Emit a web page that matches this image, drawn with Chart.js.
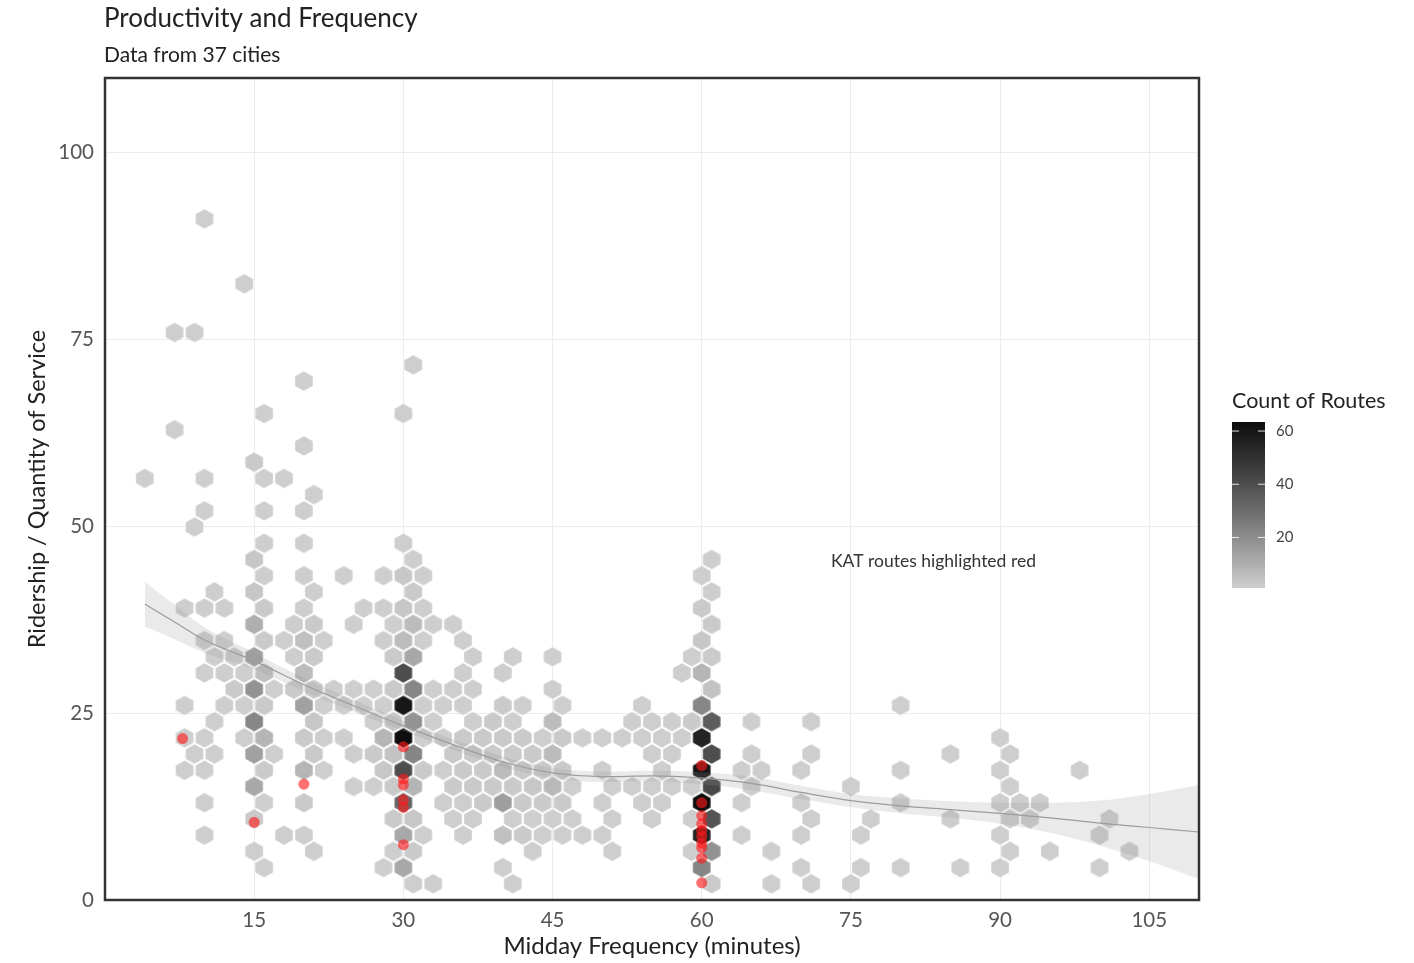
<!DOCTYPE html>
<html><head><meta charset="utf-8">
<script src="https://cdn.jsdelivr.net/npm/chart.js@4.4.1/dist/chart.umd.min.js"></script>
<style>html,body{margin:0;padding:0;background:#fff;}#wrap{width:1414px;height:963px;}</style>
</head><body><div id="wrap"><canvas id="c" width="1414" height="963"></canvas></div>
<script>
const xTicks = [15, 30, 45, 60, 75, 90, 105];
const yTicks = [0, 25, 50, 75, 100];
const legendTicks = [20, 40, 60];
const countMin = 1, countMax = 63.4;

const hexX = [
 10,
 14,
 7, 9,
 31,
 20,
 16, 30,
 7,
 20,
 15,
 4, 10, 16, 18,
 21,
 10, 16, 20,
 9,
 16, 20, 30,
 15, 31, 61,
 16, 20, 24, 28, 30, 32, 60,
 11, 15, 21, 31, 61,
 8, 10, 12, 16, 20, 26, 28, 30, 32, 60,
 15, 19, 21, 25, 29, 31, 33, 35, 61,
 10, 12, 16, 18, 20, 22, 28, 30, 32, 36, 60,
 11, 13, 15, 19, 21, 29, 31, 37, 41, 45, 59, 61,
 10, 12, 14, 16, 20, 30, 36, 40, 58, 60,
 13, 15, 17, 19, 21, 23, 25, 27, 29, 31, 33, 35, 37, 45, 61,
 8, 12, 14, 16, 20, 22, 24, 26, 28, 30, 32, 34, 36, 40, 42, 46, 54, 60, 80,
 11, 15, 21, 27, 29, 31, 33, 37, 39, 41, 45, 53, 55, 57, 59, 61, 65, 71,
 8, 10, 14, 16, 20, 22, 24, 28, 30, 32, 34, 36, 38, 40, 42, 44, 46, 48, 50, 52, 54, 56, 58, 60, 90,
 9, 11, 15, 17, 21, 25, 27, 29, 31, 35, 37, 39, 41, 43, 45, 55, 57, 61, 65, 71, 85, 91,
 8, 10, 16, 20, 22, 28, 30, 32, 34, 36, 38, 40, 42, 44, 46, 50, 56, 60, 64, 66, 70, 80, 90, 98,
 15, 25, 27, 29, 31, 35, 37, 39, 41, 43, 45, 47, 51, 53, 55, 57, 59, 61, 65, 75, 91,
 10, 16, 20, 30, 34, 36, 38, 40, 42, 44, 46, 50, 54, 56, 60, 64, 70, 80, 90, 92, 94,
 15, 29, 31, 35, 37, 41, 43, 45, 47, 51, 55, 59, 61, 71, 77, 85, 91, 93, 101,
 10, 18, 20, 30, 32, 36, 40, 42, 44, 46, 48, 50, 60, 64, 70, 76, 90, 100,
 15, 21, 29, 31, 43, 51, 59, 61, 67, 91, 95, 103,
 16, 28, 30, 40, 60, 70, 76, 80, 86, 90, 100,
 31, 33, 41, 61, 67, 71, 75
];
const hexY = [
 91.14,
 82.46,
 75.95, 75.95,
 71.61,
 69.44,
 65.1, 65.1,
 62.93,
 60.76,
 58.59,
 56.42, 56.42, 56.42, 56.42,
 54.25,
 52.08, 52.08, 52.08,
 49.91,
 47.74, 47.74, 47.74,
 45.57, 45.57, 45.57,
 43.4, 43.4, 43.4, 43.4, 43.4, 43.4, 43.4,
 41.23, 41.23, 41.23, 41.23, 41.23,
 39.06, 39.06, 39.06, 39.06, 39.06, 39.06, 39.06, 39.06, 39.06, 39.06,
 36.89, 36.89, 36.89, 36.89, 36.89, 36.89, 36.89, 36.89, 36.89,
 34.72, 34.72, 34.72, 34.72, 34.72, 34.72, 34.72, 34.72, 34.72, 34.72, 34.72,
 32.55, 32.55, 32.55, 32.55, 32.55, 32.55, 32.55, 32.55, 32.55, 32.55, 32.55, 32.55,
 30.38, 30.38, 30.38, 30.38, 30.38, 30.38, 30.38, 30.38, 30.38, 30.38,
 28.21, 28.21, 28.21, 28.21, 28.21, 28.21, 28.21, 28.21, 28.21, 28.21, 28.21, 28.21, 28.21, 28.21, 28.21,
 26.04, 26.04, 26.04, 26.04, 26.04, 26.04, 26.04, 26.04, 26.04, 26.04, 26.04, 26.04, 26.04, 26.04, 26.04, 26.04, 26.04, 26.04, 26.04,
 23.87, 23.87, 23.87, 23.87, 23.87, 23.87, 23.87, 23.87, 23.87, 23.87, 23.87, 23.87, 23.87, 23.87, 23.87, 23.87, 23.87, 23.87,
 21.7, 21.7, 21.7, 21.7, 21.7, 21.7, 21.7, 21.7, 21.7, 21.7, 21.7, 21.7, 21.7, 21.7, 21.7, 21.7, 21.7, 21.7, 21.7, 21.7, 21.7, 21.7, 21.7, 21.7, 21.7,
 19.53, 19.53, 19.53, 19.53, 19.53, 19.53, 19.53, 19.53, 19.53, 19.53, 19.53, 19.53, 19.53, 19.53, 19.53, 19.53, 19.53, 19.53, 19.53, 19.53, 19.53, 19.53,
 17.36, 17.36, 17.36, 17.36, 17.36, 17.36, 17.36, 17.36, 17.36, 17.36, 17.36, 17.36, 17.36, 17.36, 17.36, 17.36, 17.36, 17.36, 17.36, 17.36, 17.36, 17.36, 17.36, 17.36,
 15.19, 15.19, 15.19, 15.19, 15.19, 15.19, 15.19, 15.19, 15.19, 15.19, 15.19, 15.19, 15.19, 15.19, 15.19, 15.19, 15.19, 15.19, 15.19, 15.19, 15.19,
 13.02, 13.02, 13.02, 13.02, 13.02, 13.02, 13.02, 13.02, 13.02, 13.02, 13.02, 13.02, 13.02, 13.02, 13.02, 13.02, 13.02, 13.02, 13.02, 13.02, 13.02,
 10.85, 10.85, 10.85, 10.85, 10.85, 10.85, 10.85, 10.85, 10.85, 10.85, 10.85, 10.85, 10.85, 10.85, 10.85, 10.85, 10.85, 10.85, 10.85,
 8.68, 8.68, 8.68, 8.68, 8.68, 8.68, 8.68, 8.68, 8.68, 8.68, 8.68, 8.68, 8.68, 8.68, 8.68, 8.68, 8.68, 8.68,
 6.51, 6.51, 6.51, 6.51, 6.51, 6.51, 6.51, 6.51, 6.51, 6.51, 6.51, 6.51,
 4.34, 4.34, 4.34, 4.34, 4.34, 4.34, 4.34, 4.34, 4.34, 4.34, 4.34,
 2.17, 2.17, 2.17, 2.17, 2.17, 2.17, 2.17
];
const hexCount = [
 1,
 1,
 1, 1,
 1,
 1,
 1, 1,
 1,
 1,
 2,
 1, 1, 1, 1,
 1,
 1, 1, 1,
 1,
 1, 1, 1,
 3, 1, 1,
 1, 1, 1, 1, 3, 1, 1,
 1, 3, 1, 2, 1,
 1, 1, 1, 2, 1, 1, 1, 3, 1, 2,
 10, 1, 2, 1, 1, 6, 1, 1, 2,
 1, 1, 2, 1, 5, 1, 1, 6, 1, 1, 3,
 1, 1, 14, 1, 2, 2, 12, 1, 1, 1, 1, 2,
 1, 1, 1, 5, 6, 40, 1, 1, 1, 8,
 2, 18, 1, 2, 2, 1, 1, 1, 2, 22, 1, 1, 1, 1, 4,
 1, 1, 1, 2, 14, 1, 1, 1, 1, 60, 1, 1, 1, 2, 1, 1, 1, 22, 1,
 1, 22, 3, 1, 3, 18, 1, 1, 2, 1, 6, 1, 1, 1, 2, 35, 1, 1,
 1, 1, 1, 8, 2, 1, 1, 8, 63, 1, 1, 2, 2, 2, 2, 1, 2, 1, 1, 1, 1, 1, 1, 55, 1,
 1, 1, 14, 1, 2, 1, 2, 4, 22, 2, 2, 2, 2, 2, 6, 1, 1, 40, 1, 1, 1, 1,
 1, 1, 2, 8, 1, 3, 40, 2, 1, 2, 2, 6, 2, 2, 2, 1, 1, 60, 1, 1, 1, 1, 1, 1,
 12, 1, 1, 2, 8, 2, 2, 2, 2, 3, 7, 1, 1, 1, 1, 1, 1, 42, 1, 1, 1,
 1, 1, 2, 32, 1, 1, 2, 15, 2, 2, 2, 1, 1, 1, 63, 1, 1, 1, 1, 1, 1,
 2, 2, 3, 1, 1, 1, 1, 1, 1, 1, 1, 1, 38, 1, 1, 1, 1, 1, 1,
 1, 1, 1, 12, 1, 1, 5, 2, 1, 1, 1, 1, 55, 1, 1, 1, 1, 1,
 1, 1, 1, 2, 1, 1, 1, 18, 1, 1, 1, 1,
 1, 1, 12, 1, 22, 1, 1, 1, 1, 1, 1,
 1, 1, 1, 2, 1, 1, 1
];

const katX = [7.8, 15, 20, 30, 30, 30, 30, 30, 30, 60, 60, 60, 60, 60, 60, 60, 60, 60, 60];
const katY = [21.6, 10.4, 15.5, 20.5, 16.2, 15.4, 13.4, 12.4, 7.4, 18.0, 13.0, 11.3, 10.2, 9.3, 8.5, 7.6, 7.0, 5.6, 2.3];

const smoothX  = [4, 7, 10, 15, 20, 25, 30, 35, 40, 45, 50, 55, 60, 65, 70, 75, 80, 85, 90, 95, 100, 105, 110];
const smoothY  = [39.6, 37.2, 34.8, 32.0, 28.8, 26.0, 23.3, 20.8, 18.5, 17.0, 16.5, 16.6, 16.3, 15.6, 14.4, 13.3, 12.6, 12.1, 11.6, 11.0, 10.3, 9.7, 9.1];
const smoothLo = [36.6, 34.9, 33.1, 30.9, 27.9, 25.2, 22.6, 20.1, 17.8, 16.3, 15.8, 15.9, 15.5, 14.7, 13.5, 12.4, 11.6, 11.0, 10.2, 9.0, 7.3, 5.2, 2.8];
const smoothHi = [42.6, 39.5, 36.5, 33.1, 29.7, 26.8, 24.0, 21.5, 19.2, 17.7, 17.2, 17.3, 17.1, 16.5, 15.3, 14.2, 13.6, 13.2, 13.0, 13.0, 13.3, 14.2, 15.4];

const annText = 'KAT routes highlighted red';
const annX = 83.3, annY = 45.3;

// ---- colour scale (interpolated in lightness) ----
function lstar(v){ v/=255; v = v<=0.04045 ? v/12.92 : Math.pow((v+0.055)/1.055,2.4); return v>0.008856 ? 116*Math.cbrt(v)-16 : 903.3*v; }
function fromL(L){ const Y = L>8 ? Math.pow((L+16)/116,3) : L/903.3; const s = Y<=0.0031308 ? 12.92*Y : 1.055*Math.pow(Y,1/2.4)-0.055; return Math.round(Math.max(0,Math.min(1,s))*255); }
const L_LOW = lstar(206), L_HIGH = lstar(12);
function countColor(n){
  let t = (n-countMin)/(countMax-countMin); t = Math.max(0, Math.min(1, t));
  const g = fromL(L_LOW + (L_HIGH-L_LOW)*t);
  return 'rgb('+g+','+g+','+g+')';
}
const hexCache = {};
function hexStyle(color){
  if (hexCache[color]) return hexCache[color];
  const c = document.createElement('canvas'); c.width = 20; c.height = 22;
  const g = c.getContext('2d'); const cx = 10, cy = 11, hw = 8.8, hh = 9.7;
  g.beginPath(); g.moveTo(cx, cy-hh); g.lineTo(cx+hw, cy-hh/2); g.lineTo(cx+hw, cy+hh/2);
  g.lineTo(cx, cy+hh); g.lineTo(cx-hw, cy+hh/2); g.lineTo(cx-hw, cy-hh/2); g.closePath();
  g.fillStyle = color; g.fill();
  hexCache[color] = c; return c;
}

const decor = {
  id: 'decor',
  afterDraw(chart){
    const {ctx, chartArea: a, scales} = chart;
    ctx.save();
    ctx.strokeStyle = '#333'; ctx.lineWidth = 2.5;
    ctx.strokeRect(a.left, a.top, a.right - a.left, a.bottom - a.top);
    ctx.fillStyle = '#222'; ctx.textAlign = 'left'; ctx.textBaseline = 'alphabetic';
    ctx.font = '26px Lato'; ctx.fillText('Productivity and Frequency', 104, 27);
    ctx.font = '21px Lato'; ctx.fillText('Data from 37 cities', 104, 62);
    ctx.font = '17.5px Lato'; ctx.fillStyle = '#333'; ctx.textAlign = 'center'; ctx.textBaseline = 'middle';
    ctx.fillText(annText, scales.x.getPixelForValue(annX), scales.y.getPixelForValue(annY));
    // colour bar legend
    const bx = 1232, bw = 33, top = 422, bot = 588;
    ctx.textAlign = 'left'; ctx.textBaseline = 'alphabetic'; ctx.fillStyle = '#222'; ctx.font = '21.5px Lato';
    ctx.fillText('Count of Routes', bx, 408);
    const grad = ctx.createLinearGradient(0, bot, 0, top);
    for (let i = 0; i <= 20; i++){ const v = countMin + (countMax-countMin)*i/20; grad.addColorStop(i/20, countColor(v)); }
    ctx.fillStyle = grad; ctx.fillRect(bx, top, bw, bot - top);
    ctx.font = '15px Lato'; ctx.textBaseline = 'middle';
    legendTicks.forEach(v => {
      const y = bot - (v - countMin)/(countMax - countMin)*(bot - top);
      ctx.strokeStyle = 'rgba(255,255,255,0.85)'; ctx.lineWidth = 1;
      ctx.beginPath(); ctx.moveTo(bx, y); ctx.lineTo(bx+7, y); ctx.moveTo(bx+bw-7, y); ctx.lineTo(bx+bw, y); ctx.stroke();
      ctx.fillStyle = '#444'; ctx.fillText(String(v), 1276, y);
    });
    ctx.restore();
  }
};

new Chart(document.getElementById('c'), {
  type: 'scatter',
  data: { datasets: [
    { type: 'scatter', label: 'KAT', order: 0,
      data: katX.map((x,i)=>({x, y: katY[i]})),
      pointRadius: 5.5, pointHoverRadius: 5.5, backgroundColor: 'rgba(255,25,25,0.62)', borderWidth: 0 },
    { type: 'line', label: 'smooth', order: 1,
      data: smoothX.map((x,i)=>({x, y: smoothY[i]})),
      borderColor: '#9c9c9c', borderWidth: 1.2, pointRadius: 0, fill: false, cubicInterpolationMode: 'monotone' },
    { type: 'line', label: 'hi', order: 2,
      data: smoothX.map((x,i)=>({x, y: smoothHi[i]})),
      borderWidth: 0, borderColor: 'rgba(0,0,0,0)', pointRadius: 0, fill: '+1',
      backgroundColor: 'rgba(150,150,150,0.2)', cubicInterpolationMode: 'monotone' },
    { type: 'line', label: 'lo', order: 2,
      data: smoothX.map((x,i)=>({x, y: smoothLo[i]})),
      borderWidth: 0, borderColor: 'rgba(0,0,0,0)', pointRadius: 0, fill: false, cubicInterpolationMode: 'monotone' },
    { type: 'scatter', label: 'hex', order: 3,
      data: hexX.map((x,i)=>({x, y: hexY[i]})),
      pointRadius: 10, pointHoverRadius: 10, borderWidth: 0,
      pointStyle: (ctx) => ctx.dataIndex === undefined ? 'circle' : hexStyle(countColor(hexCount[ctx.dataIndex])) }
  ]},
  options: {
    responsive: false, animation: false, events: [],
    layout: { padding: { left: 0, top: 78, right: 215, bottom: 0 } },
    plugins: { legend: { display: false }, tooltip: { enabled: false } },
    scales: {
      x: { type: 'linear', min: 0, max: 110,
        afterBuildTicks: s => { s.ticks = xTicks.map(v => ({value: v})); },
        afterFit: s => { s.height = 63; },
        grid: { color: '#ececec', lineWidth: 1, drawTicks: false },
        border: { display: false },
        ticks: { padding: 10, color: '#555', font: { family: 'Lato', size: 20.5, lineHeight: 1 } },
        title: { display: true, text: 'Midday Frequency (minutes)', color: '#222',
          font: { family: 'Lato', size: 24, lineHeight: 1.2 }, padding: { top: 0, bottom: 2 } } },
      y: { type: 'linear', min: 0, max: 110,
        afterBuildTicks: s => { s.ticks = yTicks.map(v => ({value: v})); },
        afterFit: s => { s.width = 105; },
        grid: { color: '#ececec', lineWidth: 1, drawTicks: false },
        border: { display: false },
        ticks: { padding: 11, color: '#555', font: { family: 'Lato', size: 20.5 } },
        title: { display: true, text: 'Ridership / Quantity of Service', color: '#222',
          font: { family: 'Lato', size: 23.5, lineHeight: 1.2 }, padding: { top: 23, bottom: 0 } } }
    }
  },
  plugins: [decor]
});
</script>
</body></html>
